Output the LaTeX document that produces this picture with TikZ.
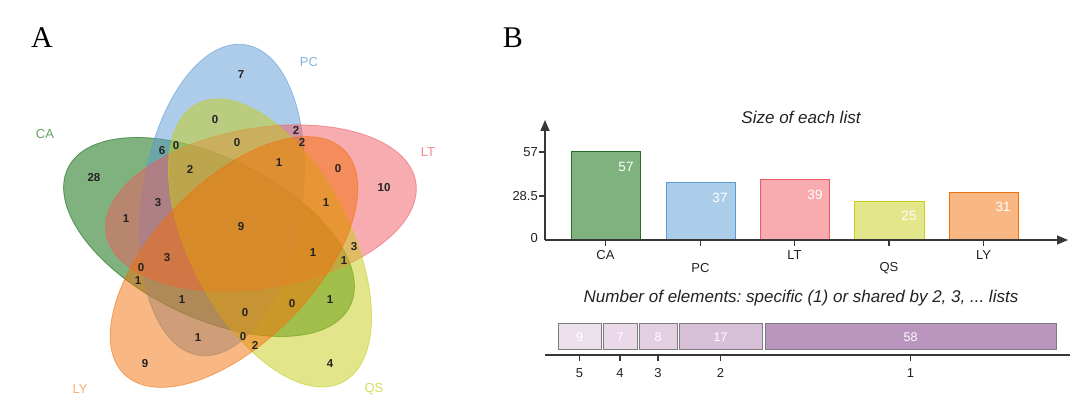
\documentclass[tikz,border=0pt]{standalone}
\usepackage{fontspec}
\setmainfont{Liberation Sans}
\newfontfamily\serifA{Liberation Serif}
\usetikzlibrary{arrows.meta}
\frenchspacing
\definecolor{caC}{RGB}{0,102,0}
\definecolor{pcC}{RGB}{90,155,212}
\definecolor{ltC}{RGB}{241,90,96}
\definecolor{qsC}{RGB}{200,205,25}
\definecolor{lyC}{RGB}{242,112,8}
\definecolor{caB}{RGB}{40,110,40}
\definecolor{txt}{RGB}{35,35,35}
\definecolor{axisC}{RGB}{55,55,55}
\definecolor{boxline}{RGB}{125,125,125}
\definecolor{pA}{RGB}{237,224,237}
\definecolor{pB}{RGB}{233,217,233}
\definecolor{pC}{RGB}{226,207,226}
\definecolor{pD}{RGB}{216,192,216}
\definecolor{pE}{RGB}{186,150,190}
\begin{document}
\begin{tikzpicture}[x=1pt,y=-1pt,
  vset/.style={fill=#1, fill opacity=0.5, draw=#1, draw opacity=0.55, line width=0.8pt},
  num/.style={font=\fontsize{11.5}{12}\selectfont\bfseries, text=txt, inner sep=0pt},
  setlab/.style={font=\fontsize{13}{14}\selectfont, text=#1, inner sep=0pt},
  panel/.style={font=\fontsize{30}{32}\selectfont\serifA, text=black, inner sep=0pt},
  bar/.style 2 args={fill=#1!50!white, draw=#2, line width=1pt},
  barval/.style={font=\fontsize{13.5}{15}\selectfont, text=white, inner sep=0pt},
  axislab/.style={font=\fontsize{13}{15}\selectfont, text=txt, inner sep=0pt},
  ttl/.style={font=\fontsize{17}{19}\selectfont\itshape, text=txt, inner sep=0pt},
  axisline/.style={draw=axisC, line width=1.5pt},
  arrowaxis/.style={axisline, -{Triangle[length=11pt,width=9pt]}},
  tick/.style={draw=axisC, line width=1.2pt},
  lvbox/.style={fill=#1, draw=boxline, line width=1pt},
  boxval/.style={font=\fontsize{12.5}{14}\selectfont, text=white, inner sep=0pt}
]
\useasboundingbox (0,0) rectangle (1080,403);
\fill[white] (0,0) rectangle (1080,403);

% ---------- Panel A : Venn ----------
\node[panel] (labA) at (42,38) {A};
\draw[vset=caC, rotate around={-26:(209,237)}] (209,237) ellipse [x radius=157, y radius=80];
\draw[vset=pcC, rotate around={81.6:(222,200)}] (222,200) ellipse [x radius=157, y radius=80];
\draw[vset=ltC, rotate around={9.6:(261,208)}] (261,208) ellipse [x radius=157, y radius=80];
\draw[vset=qsC, rotate around={-62.4:(270,243)}] (270,243) ellipse [x radius=157, y radius=80];
\draw[vset=lyC, rotate around={45.6:(234,262)}] (234,262) ellipse [x radius=157, y radius=80];

\node[setlab=caC!60!white] (sCA) at (45,134) {CA};
\node[setlab=pcC!75!white] (sPC) at (309,62) {PC};
\node[setlab=ltC!70!white] (sLT) at (428,152) {LT};
\node[setlab=qsC!70!white] (sQS) at (374,389) {QS};
\node[setlab=lyC!55!white] (sLY) at (80,389) {LY};

\node[num] (n1) at (241,75) {7};
\node[num] (n2) at (215,120) {0};
\node[num] (n3) at (162,151) {6};
\node[num] (n4) at (176,146) {0};
\node[num] (n5) at (237,143) {0};
\node[num] (n6) at (296,130) {2};
\node[num] (n7) at (302,142) {2};
\node[num] (n8) at (190,169) {2};
\node[num] (n9) at (279,163) {1};
\node[num] (n10) at (338,169) {0};
\node[num] (n11) at (384,188) {10};
\node[num] (n12) at (94,178) {28};
\node[num] (n13) at (158,203) {3};
\node[num] (n14) at (126,219) {1};
\node[num] (n15) at (241,227) {9};
\node[num] (n16) at (326,203) {1};
\node[num] (n17) at (354,247) {3};
\node[num] (n18) at (313,253) {1};
\node[num] (n19) at (344,261) {1};
\node[num] (n20) at (167,258) {3};
\node[num] (n21) at (141,268) {0};
\node[num] (n22) at (138,281) {1};
\node[num] (n23) at (182,300) {1};
\node[num] (n24) at (330,300) {1};
\node[num] (n25) at (292,304) {0};
\node[num] (n26) at (245,313) {0};
\node[num] (n27) at (198,338) {1};
\node[num] (n28) at (243,337) {0};
\node[num] (n29) at (255,345) {2};
\node[num] (n30) at (145,364) {9};
\node[num] (n31) at (330,364) {4};

% ---------- Panel B ----------
\node[panel] (labB) at (513,38) {B};
\node[ttl] (t1) at (801,117) {Size of each list};

\draw[bar={caC}{caB}] (571,240) rectangle (640,152);
\draw[bar={pcC}{pcC}] (666,240) rectangle (735,183);
\draw[bar={ltC}{ltC}] (760,240) rectangle (829,180);
\draw[bar={qsC}{qsC}] (854,240) rectangle (924,202);
\draw[bar={lyC}{lyC}] (949,240) rectangle (1018,193);

\node[barval] (v1) at (626,167) {57};
\node[barval] (v2) at (720,198) {37};
\node[barval] (v3) at (815,195) {39};
\node[barval] (v4) at (909,216) {25};
\node[barval] (v5) at (1003,207) {31};

\coordinate (orig) at (545,240);
\coordinate (ytip) at (545,120);
\coordinate (xtip) at (1068,240);
\draw[arrowaxis] (orig) -- (ytip);
\draw[arrowaxis] (orig) -- (xtip);

\draw[tick] (539,152) -- (545,152);
\draw[tick] (539,196) -- (545,196);
\node[axislab, anchor=east] (y57) at (538,152) {57};
\node[axislab, anchor=east] (y28) at (538,196) {28.5};
\node[axislab, anchor=east] (y0) at (538,238) {0};

\foreach \x/\lab/\yy/\nm in {605.5/CA/255/xa, 700.5/PC/268/xb, 794.5/LT/255/xc, 889/QS/268/xd, 983.5/LY/255/xe}{
  \draw[tick] (\x,240) -- (\x,246);
  \node[axislab] (\nm) at (\x,\yy) {\lab};
}

\node[ttl] (t2) at (801,298) {Number of elements: specific (1) or shared by 2, 3, ... lists};

\draw[lvbox=pA] (558,324) rectangle (601,350);
\draw[lvbox=pB] (603,324) rectangle (637,350);
\draw[lvbox=pC] (639,324) rectangle (677,350);
\draw[lvbox=pD] (679,324) rectangle (762,350);
\draw[lvbox=pE] (765,324) rectangle (1056,350);
\node[boxval] (b5) at (579.5,337) {9};
\node[boxval] (b4) at (620,337) {7};
\node[boxval] (b3) at (658,337) {8};
\node[boxval] (b2) at (720.5,337) {17};
\node[boxval] (b1) at (910.5,337) {58};

\coordinate (bl) at (545,355);
\coordinate (br) at (1070,355);
\draw[axisline, line width=1.3pt] (bl) -- (br);
\foreach \x/\lab/\nm in {579.5/5/k5, 620/4/k4, 658/3/k3, 720.5/2/k2, 910.5/1/k1}{
  \draw[tick] (\x,355) -- (\x,361);
  \node[axislab] (\nm) at (\x,373) {\lab};
}
\end{tikzpicture}
\end{document}
